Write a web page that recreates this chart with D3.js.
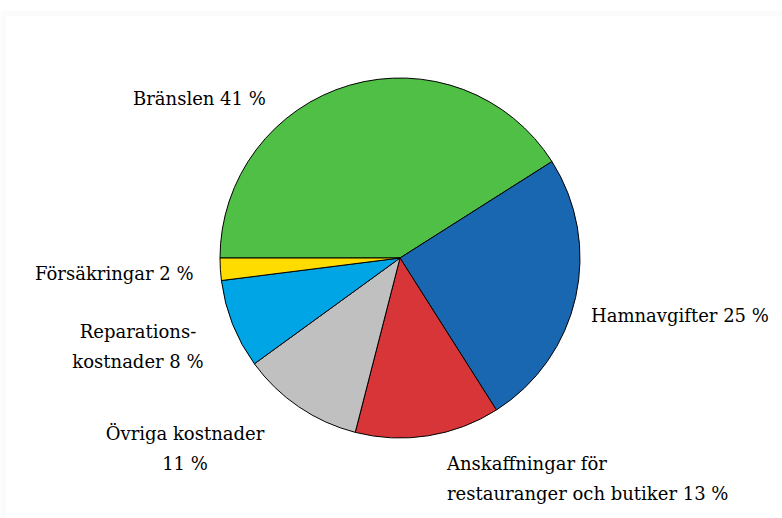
<!DOCTYPE html>
<html>
<head>
<meta charset="utf-8">
<script src="https://cdn.jsdelivr.net/npm/d3@7"></script>
<style>
	body { margin: 0; background: #fff; }
	text { font-family: "DejaVu Serif", serif; font-size: 18px; fill: #000; }
</style>
</head>
<body>
<svg id="viz"></svg>
<script>
// Data, in drawing order (clockwise from 9 o'clock)
const categories = ["Bränslen", "Hamnavgifter", "Anskaffningar för restauranger och butiker", "Övriga kostnader", "Reparationskostnader", "Försäkringar"];
const values = [41, 25, 13, 11, 8, 2];
const colors = ["#50bf46", "#1867b0", "#d83538", "#c0c0c0", "#00a5e6", "#ffdc00"];

// Label lines and where they sit
const labelLines = [
	["Bränslen 41 %"],
	["Hamnavgifter 25 %"],
	["Anskaffningar för", "restauranger och butiker 13 %"],
	["Övriga kostnader", "11 %"],
	["Reparations-", "kostnader 8 %"],
	["Försäkringar 2 %"]
];
const labelPos = [
	{x: 133, y: 105, anchor: "start"},
	{x: 591, y: 322, anchor: "start"},
	{x: 447, y: 470, anchor: "start"},
	{x: 185, y: 440, anchor: "middle"},
	{x: 138, y: 338, anchor: "middle"},
	{x: 35, y: 280, anchor: "start"}
];

const width = 782;
const height = 518;
const cx = 400, cy = 258, radius = 180;

const svg = d3.select("svg#viz")
	.attr("width", width)
	.attr("height", height);

// faint frame
svg.append("path")
	.attr("d", "M3.5,518 V13.5 H782")
	.attr("fill", "none")
	.attr("stroke", "#fbfbfb")
	.attr("stroke-width", 5);

const pie = d3.pie()
	.sort(null)
	.value(d => d)
	.startAngle(-Math.PI / 2)
	.endAngle(3 * Math.PI / 2);

const arc = d3.arc()
	.innerRadius(0)
	.outerRadius(radius);

const plot = svg.append("g").attr("transform", translate(cx, cy));

plot.selectAll("path")
	.data(pie(values))
	.join("path")
	.attr("d", arc)
	.attr("fill", (d, i) => colors[i])
	.attr("stroke", "#000")
	.attr("stroke-width", 1)
	.attr("stroke-linejoin", "round");

const labels = svg.append("g").attr("id", "labels");

labelLines.forEach(function(lines, i) {
	const t = labels.append("text")
		.attr("x", labelPos[i].x)
		.attr("y", labelPos[i].y)
		.attr("text-anchor", labelPos[i].anchor);
	lines.forEach(function(line, j) {
		t.append("tspan")
			.attr("x", labelPos[i].x)
			.attr("dy", j == 0 ? 0 : 30)
			.text(line);
	});
});

function translate(x, y) {
	return 'translate(' + x + ',' + y + ')';
}
</script>
</body>
</html>
